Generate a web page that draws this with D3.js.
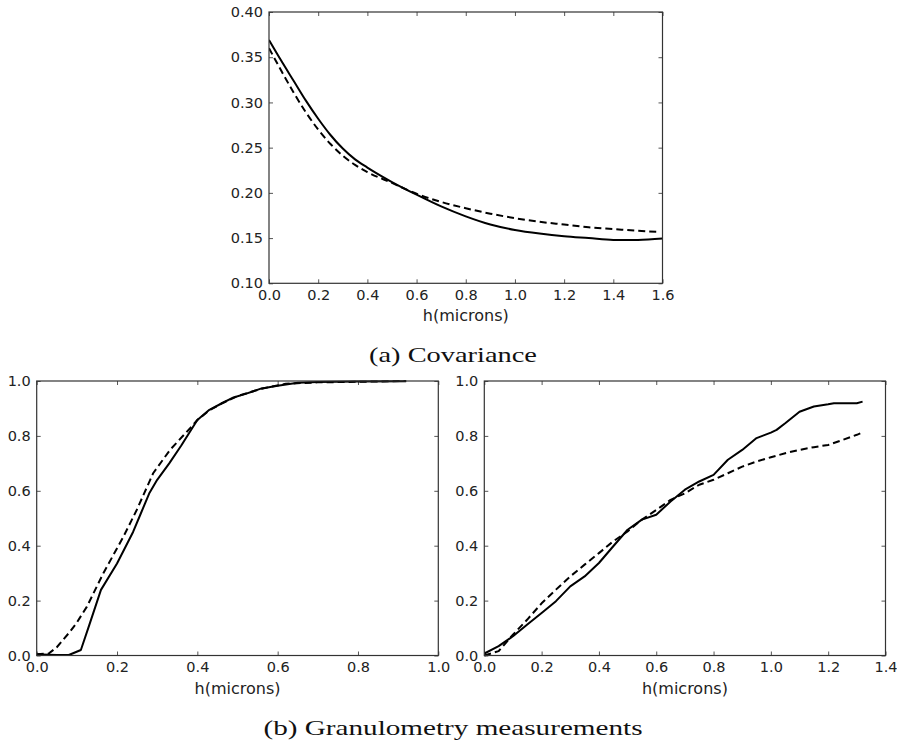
<!DOCTYPE html>
<html>
<head>
<meta charset="utf-8">
<script src="https://cdn.jsdelivr.net/npm/d3@7"></script>
<style>
  html, body { margin: 0; padding: 0; background: #fff; }
  svg { display: block; }
  .tick text { font-family: "DejaVu Sans", sans-serif; font-size: 14.5px; fill: #222; }
  .xlabel { font-family: "DejaVu Sans", sans-serif; font-size: 16px; fill: #222; }
  .caption { font-family: "Liberation Serif", "DejaVu Serif", serif; font-size: 21px; fill: #111; }
</style>
</head>
<body>
<script>
// Covariance: measured (solid) vs model (dashed)
const covH        = [0, 0.05, 0.1, 0.15, 0.2, 0.25, 0.3, 0.35, 0.4, 0.5, 0.6, 0.7, 0.8, 0.9, 1.0, 1.1, 1.2, 1.3, 1.4, 1.45, 1.5, 1.6];
const covMeasured = [0.369, 0.346, 0.324, 0.302, 0.282, 0.264, 0.249, 0.237, 0.228, 0.212, 0.198, 0.185, 0.174, 0.165, 0.159, 0.155, 0.152, 0.150, 0.148, 0.1478, 0.148, 0.1495];
const covModelH   = [0, 0.05, 0.1, 0.15, 0.2, 0.25, 0.3, 0.35, 0.4, 0.5, 0.6, 0.7, 0.8, 0.9, 1.0, 1.1, 1.2, 1.3, 1.4, 1.5, 1.58];
const covModel    = [0.360, 0.335, 0.311, 0.289, 0.270, 0.254, 0.241, 0.231, 0.223, 0.211, 0.199, 0.190, 0.183, 0.177, 0.172, 0.168, 0.165, 0.162, 0.160, 0.158, 0.157];

// Granulometry, first sample
const granAH        = [0, 0.03, 0.05, 0.08, 0.11, 0.13, 0.16, 0.2, 0.24, 0.26, 0.28, 0.3, 0.33, 0.36, 0.4, 0.43, 0.46, 0.49, 0.52, 0.56, 0.6, 0.65, 0.7, 0.8, 0.92];
const granAMeasured = [0.005, 0.003, 0.002, 0.002, 0.02, 0.107, 0.239, 0.335, 0.45, 0.52, 0.59, 0.64, 0.70, 0.765, 0.858, 0.895, 0.918, 0.94, 0.953, 0.973, 0.983, 0.994, 0.996, 0.998, 0.999];
const granAModelH   = [0, 0.03, 0.05, 0.083, 0.1, 0.125, 0.166, 0.216, 0.249, 0.29, 0.332, 0.382, 0.4, 0.43, 0.46, 0.5, 0.56, 0.62, 0.7, 0.8, 0.92];
const granAModel    = [0.005, 0.007, 0.03, 0.087, 0.12, 0.178, 0.30, 0.433, 0.53, 0.664, 0.749, 0.828, 0.858, 0.893, 0.918, 0.945, 0.972, 0.99, 0.995, 0.997, 1.0];

// Granulometry, second sample
const granBH        = [0, 0.05, 0.1, 0.15, 0.2, 0.25, 0.3, 0.35, 0.4, 0.45, 0.5, 0.55, 0.6, 0.65, 0.7, 0.75, 0.8, 0.85, 0.9, 0.95, 1.0, 1.02, 1.05, 1.1, 1.15, 1.2, 1.22, 1.25, 1.3, 1.32];
const granBMeasured = [0.007, 0.034, 0.07, 0.113, 0.155, 0.198, 0.252, 0.288, 0.337, 0.398, 0.458, 0.495, 0.513, 0.561, 0.604, 0.634, 0.658, 0.713, 0.749, 0.792, 0.812, 0.822, 0.846, 0.888, 0.907, 0.915, 0.919, 0.919, 0.919, 0.925];
const granBModelH   = [0, 0.05, 0.1, 0.15, 0.2, 0.25, 0.3, 0.35, 0.4, 0.45, 0.5, 0.55, 0.6, 0.65, 0.7, 0.75, 0.8, 0.85, 0.9, 0.95, 1.0, 1.05, 1.1, 1.15, 1.2, 1.25, 1.3, 1.32];
const granBModel    = [0.0, 0.016, 0.076, 0.131, 0.19, 0.24, 0.288, 0.331, 0.373, 0.416, 0.452, 0.495, 0.53, 0.567, 0.591, 0.622, 0.64, 0.664, 0.688, 0.707, 0.722, 0.737, 0.749, 0.759, 0.767, 0.785, 0.804, 0.813];

const covXTicks  = [0, 0.2, 0.4, 0.6, 0.8, 1.0, 1.2, 1.4, 1.6];
const covYTicks  = [0.10, 0.15, 0.20, 0.25, 0.30, 0.35, 0.40];
const granAXTicks = [0, 0.2, 0.4, 0.6, 0.8, 1.0];
const granBXTicks = [0, 0.2, 0.4, 0.6, 0.8, 1.0, 1.2, 1.4];
const granYTicks  = [0, 0.2, 0.4, 0.6, 0.8, 1.0];

const xLabel = "h(microns)";
const captionA = "(a) Covariance";
const captionB = "(b) Granulometry measurements";

const W = 897, H = 749;
const svg = d3.select("body").append("svg").attr("width", W).attr("height", H);

function panel(box, xDomain, yDomain, xTicks, yTicks, xFmt, yFmt, series) {
  const x = d3.scaleLinear().domain(xDomain).range([box.left, box.right]);
  const y = d3.scaleLinear().domain(yDomain).range([box.bottom, box.top]);
  const g = svg.append("g");

  // inward ticks on all four sides, labels on bottom and left
  const axB = d3.axisBottom(x).tickValues(xTicks).tickFormat(xFmt).tickSizeInner(-4).tickSizeOuter(0).tickPadding(6);
  const axL = d3.axisLeft(y).tickValues(yTicks).tickFormat(yFmt).tickSizeInner(-4).tickSizeOuter(0).tickPadding(6);
  const axT = d3.axisTop(x).tickValues(xTicks).tickFormat("").tickSizeInner(-4).tickSizeOuter(0);
  const axR = d3.axisRight(y).tickValues(yTicks).tickFormat("").tickSizeInner(-4).tickSizeOuter(0);

  [[axB, `translate(0,${box.bottom})`], [axL, `translate(${box.left},0)`],
   [axT, `translate(0,${box.top})`], [axR, `translate(${box.right},0)`]].forEach(([ax, tr]) => {
    const a = g.append("g").attr("transform", tr).call(ax);
    a.select(".domain").remove();
    a.selectAll(".tick line").attr("stroke", "#555").attr("stroke-width", 1);
    a.selectAll(".tick text").attr("fill", "#222");
  });

  const clipId = "clip" + Math.round(box.left) + "_" + Math.round(box.top);
  svg.append("clipPath").attr("id", clipId).append("rect")
    .attr("x", box.left).attr("y", box.top - 2)
    .attr("width", box.right - box.left).attr("height", box.bottom - box.top + 4);

  series.forEach(s => {
    const line = d3.line().x((d, i) => x(s.xs[i])).y(d => y(d)).curve(s.curve || d3.curveLinear);
    g.append("path").datum(s.ys)
      .attr("clip-path", `url(#${clipId})`)
      .attr("d", line)
      .attr("fill", "none")
      .attr("stroke", "#000")
      .attr("stroke-width", 2)
      .attr("stroke-linejoin", "round")
      .attr("stroke-dasharray", s.dashed ? "7,4" : null);
  });

  g.append("rect")
    .attr("x", box.left).attr("y", box.top)
    .attr("width", box.right - box.left).attr("height", box.bottom - box.top)
    .attr("fill", "none").attr("stroke", "#333").attr("stroke-width", 1.2);

  g.append("text").attr("class", "xlabel")
    .attr("x", (box.left + box.right) / 2).attr("y", box.bottom + 38)
    .attr("text-anchor", "middle").text(xLabel);
}

const f1 = d3.format(".1f"), f2 = d3.format(".2f");

panel({left: 269, right: 662.5, top: 12, bottom: 283.3}, [0, 1.6], [0.10, 0.40], covXTicks, covYTicks, f1, f2, [
  {xs: covH, ys: covMeasured, curve: d3.curveMonotoneX},
  {xs: covModelH, ys: covModel, dashed: true, curve: d3.curveMonotoneX}
]);

panel({left: 36.7, right: 438.3, top: 381, bottom: 655.5}, [0, 1.0], [0, 1.0], granAXTicks, granYTicks, f1, f1, [
  {xs: granAH, ys: granAMeasured},
  {xs: granAModelH, ys: granAModel, dashed: true}
]);

panel({left: 484.3, right: 885.5, top: 381, bottom: 655.5}, [0, 1.4], [0, 1.0], granBXTicks, granYTicks, f1, f1, [
  {xs: granBH, ys: granBMeasured},
  {xs: granBModelH, ys: granBModel, dashed: true}
]);

svg.append("text").attr("class", "caption")
  .attr("x", 453).attr("y", 362).attr("text-anchor", "middle")
  .attr("textLength", 168).attr("lengthAdjust", "spacingAndGlyphs")
  .text(captionA);

svg.append("text").attr("class", "caption")
  .attr("x", 453).attr("y", 735).attr("text-anchor", "middle")
  .attr("textLength", 379).attr("lengthAdjust", "spacingAndGlyphs")
  .text(captionB);
</script>
</body>
</html>
